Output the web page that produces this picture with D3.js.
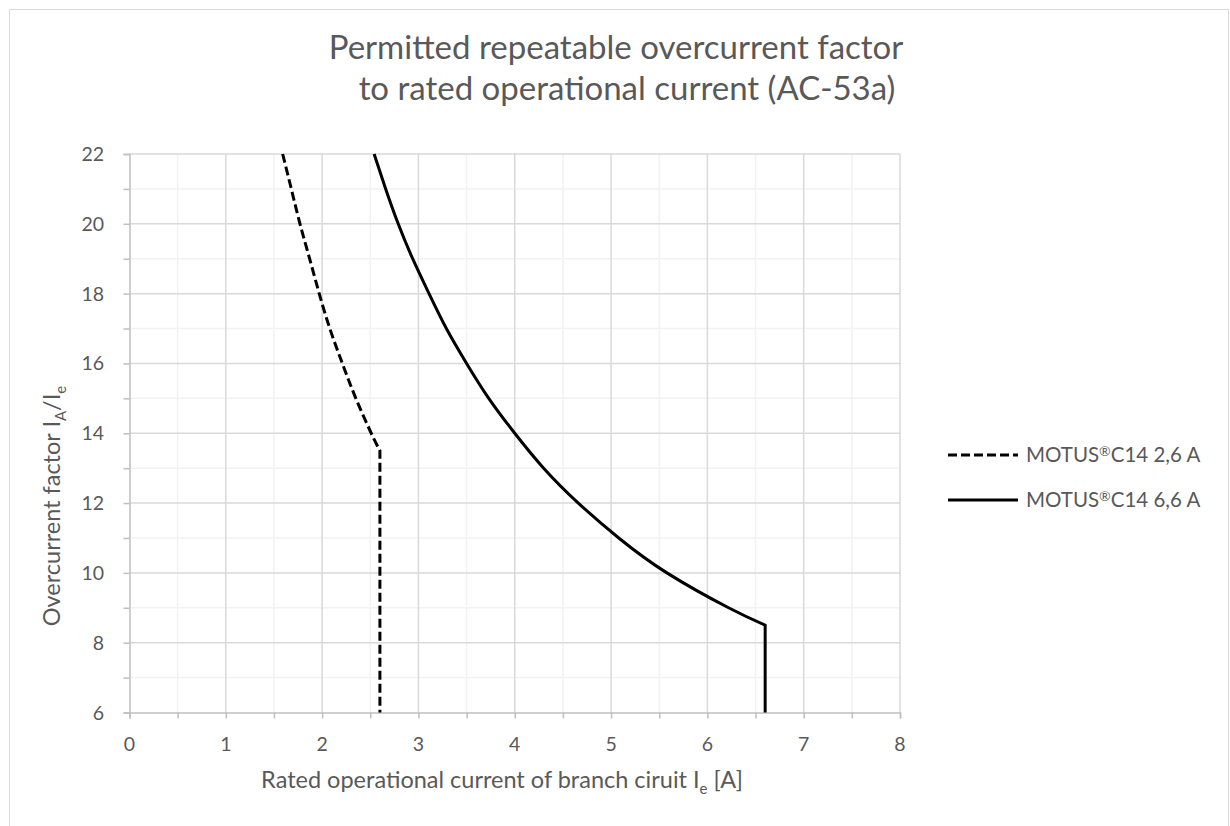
<!DOCTYPE html>
<html>
<head>
<meta charset="utf-8">
<script src="https://cdn.jsdelivr.net/npm/d3@7"></script>
<style>
  html, body { margin: 0; padding: 0; background: #fff; }
  svg { display: block; font-family: Lato, "Open Sans", sans-serif; }
</style>
</head>
<body>
<svg id="chart" width="1230" height="826"></svg>
<script>
// Series: rated operational current Ie [A] vs permitted overcurrent factor IA/Ie
const seriesNames = [["MOTUS", "\u00AE", "C14 2,6 A"], ["MOTUS", "\u00AE", "C14 6,6 A"]];
const current26 = [1.59, 1.68, 1.77, 1.87, 1.97, 2.08, 2.21, 2.35, 2.51, 2.6, 2.6];
const factor26  = [22, 21, 20, 19, 18, 17, 16, 15, 14, 13.5, 6];
const current66 = [2.54, 2.66, 2.79, 2.94, 3.11, 3.29, 3.5, 3.73, 4.0, 4.3, 4.66, 5.08, 5.58, 6.22, 6.6, 6.6];
const factor66  = [22, 21, 20, 19, 18, 17, 16, 15, 14, 13, 12, 11, 10, 9, 8.5, 6];
const xTicks = [0, 1, 2, 3, 4, 5, 6, 7, 8];
const yTicks = [6, 8, 10, 12, 14, 16, 18, 20, 22];

const svg = d3.select("#chart");
const textColor = "#595959";

// chart frame
svg.append("rect")
  .attr("x", 9.5).attr("y", 9.5)
  .attr("width", 1219).attr("height", 830)
  .attr("fill", "#fff").attr("stroke", "#d9d9d9").attr("stroke-width", 1);

const x = d3.scaleLinear().domain([0, 8]).range([129.5, 900]);
const y = d3.scaleLinear().domain([6, 22]).range([712.5, 154]);

// minor gridlines
const g = svg.append("g");
g.selectAll(".vminor").data(d3.range(0.5, 8, 1)).join("line")
  .attr("x1", d => x(d)).attr("x2", d => x(d))
  .attr("y1", y(22)).attr("y2", y(6))
  .attr("stroke", "#f2f2f2").attr("stroke-width", 1.5);
g.selectAll(".hminor").data(d3.range(7, 22, 2)).join("line")
  .attr("x1", x(0)).attr("x2", x(8))
  .attr("y1", d => y(d)).attr("y2", d => y(d))
  .attr("stroke", "#f2f2f2").attr("stroke-width", 1.5);
// major gridlines
g.selectAll(".vmajor").data(xTicks.slice(1)).join("line")
  .attr("x1", d => x(d)).attr("x2", d => x(d))
  .attr("y1", y(22)).attr("y2", y(6))
  .attr("stroke", "#d9d9d9").attr("stroke-width", 1.5);
g.selectAll(".hmajor").data(yTicks.slice(1)).join("line")
  .attr("x1", x(0)).attr("x2", x(8))
  .attr("y1", d => y(d)).attr("y2", d => y(d))
  .attr("stroke", "#d9d9d9").attr("stroke-width", 1.5);

// axes
const axisColor = "#bfbfbf";
const xAxis = svg.append("g").attr("transform", `translate(0,${y(6)})`)
  .call(d3.axisBottom(x).tickValues(d3.range(0, 8.01, 0.5)).tickSize(6).tickFormat(""));
const yAxis = svg.append("g").attr("transform", `translate(${x(0)},0)`)
  .call(d3.axisLeft(y).tickValues(d3.range(6, 22.01, 1)).tickSize(6).tickFormat(""));
[xAxis, yAxis].forEach(a => {
  a.select(".domain").attr("stroke", axisColor).attr("stroke-width", 1.5);
  a.selectAll(".tick line").attr("stroke", axisColor).attr("stroke-width", 1.5);
});

// tick labels
svg.append("g").selectAll("text").data(xTicks).join("text")
  .attr("x", d => x(d)).attr("y", 751)
  .attr("text-anchor", "middle")
  .attr("font-size", 19.5).attr("fill", textColor)
  .text(d => d);
svg.append("g").selectAll("text").data(yTicks).join("text")
  .attr("x", 104).attr("y", d => y(d) + 7)
  .attr("text-anchor", "end")
  .attr("font-size", 19.5).attr("fill", textColor)
  .text(d => d);

// series lines: smooth curve segment, then straight drop to the axis
function seriesPath(xs, ys) {
  const pts = xs.map((v, i) => [x(v), y(ys[i])]);
  const curvePts = pts.slice(0, pts.length - 1);
  const last = pts[pts.length - 1];
  return d3.line().curve(d3.curveNatural)(curvePts) + "L" + last[0] + "," + last[1];
}
const plot = svg.append("g");
plot.append("path").attr("d", seriesPath(current26, factor26))
  .attr("fill", "none").attr("stroke", "#000").attr("stroke-width", 3)
  .attr("stroke-dasharray", "9,4");
plot.append("path").attr("d", seriesPath(current66, factor66))
  .attr("fill", "none").attr("stroke", "#000").attr("stroke-width", 3);

// title
const title = svg.append("text").attr("text-anchor", "middle")
  .attr("font-size", 33).attr("fill", textColor);
title.append("tspan").attr("x", 616).attr("y", 59).text("Permitted repeatable overcurrent factor");
title.append("tspan").attr("x", 627).attr("y", 100).text("to rated operational current (AC-53a)");

// axis titles
const xt = svg.append("text").attr("x", 502).attr("y", 788)
  .attr("text-anchor", "middle").attr("font-size", 23.5).attr("fill", textColor);
xt.append("tspan").text("Rated operational current of branch ciruit I");
xt.append("tspan").attr("font-size", 15).attr("dy", 6).text("e");
xt.append("tspan").attr("dy", -6).text(" [A]");

const yt = svg.append("text")
  .attr("transform", "translate(60,506) rotate(-90)")
  .attr("text-anchor", "middle").attr("font-size", 23.5).attr("fill", textColor);
yt.append("tspan").text("Overcurrent factor I");
yt.append("tspan").attr("font-size", 15).attr("dy", 6).text("A");
yt.append("tspan").attr("dy", -6).text("/I");
yt.append("tspan").attr("font-size", 15).attr("dy", 6).text("e");

// legend
const legend = svg.append("g");
const legendRows = [
  { name: seriesNames[0], dash: "9,4", y: 455 },
  { name: seriesNames[1], dash: null, y: 500 }
];
legendRows.forEach(r => {
  legend.append("line").attr("x1", 948).attr("x2", 1018).attr("y1", r.y).attr("y2", r.y)
    .attr("stroke", "#000").attr("stroke-width", 3)
    .attr("stroke-dasharray", r.dash);
  const t = legend.append("text").attr("x", 1026).attr("y", r.y + 7)
    .attr("font-size", 20.5).attr("fill", textColor);
  t.append("tspan").text(r.name[0]);
  t.append("tspan").attr("font-size", 14).attr("dy", -6).text(r.name[1]);
  t.append("tspan").attr("dy", 6).text(r.name[2]);
});
</script>
</body>
</html>
